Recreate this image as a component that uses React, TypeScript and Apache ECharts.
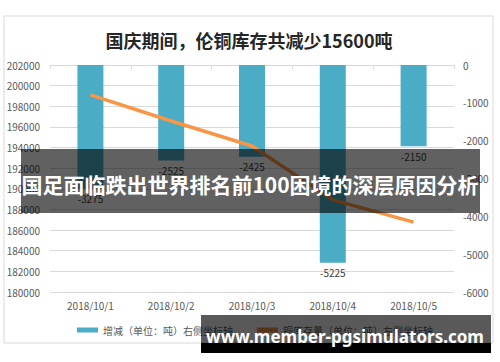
import React, { useEffect, useRef } from "react";
import * as echarts from "echarts";

const categories = ["2018/10/1", "2018/10/2", "2018/10/3", "2018/10/4", "2018/10/5"];
const changeValues = [-3275, -2525, -2425, -5225, -2150];
const stockValues = [199100, 196575, 194150, 188925, 186775];
const titleText = "国庆期间，伦铜库存共减少15600吨";
const bannerText = "国足面临跌出世界排名前100困境的深层原因分析";
const watermarkText = "www.member-pgsimulators.com";
const legendNames = ["增减（单位：吨）右侧坐标轴", "铜库存量（单位：吨）左侧坐标轴"];

export default function App() {
  const ref = useRef<HTMLDivElement>(null);
  useEffect(() => {
    if (!ref.current) return;
    const chart = echarts.init(ref.current, null, { renderer: "svg" });
    const font = "'Noto Sans CJK SC', 'Noto Sans', sans-serif";
    const plain = (v: number) => String(v);
    chart.setOption({
      animation: false,
      backgroundColor: "#ffffff",
      textStyle: { fontFamily: font },
      grid: { left: 50, right: 46, top: 65, bottom: 70, containLabel: false },
      legend: {
        left: 72,
        top: 320,
        itemWidth: 21,
        itemHeight: 5,
        itemGap: 24,
        textStyle: { fontSize: 10, color: "#595959", fontFamily: font },
        data: [
          { name: legendNames[0], icon: "rect" },
          { name: legendNames[1], icon: "rect" },
        ],
      },
      xAxis: {
        type: "category",
        data: categories,
        boundaryGap: true,
        axisLine: { lineStyle: { color: "#D9D9D9" } },
        axisTick: { show: true, length: 4, lineStyle: { color: "#D9D9D9" } },
        axisLabel: { color: "#595959", fontSize: 10, margin: 8 },
      },
      yAxis: [
        {
          type: "value",
          min: 180000,
          max: 202000,
          interval: 2000,
          axisLine: { show: false },
          axisTick: { show: false },
          splitLine: { lineStyle: { color: "#D9D9D9" } },
          axisLabel: { color: "#595959", fontSize: 10, margin: 10, formatter: plain },
        },
        {
          type: "value",
          min: -6000,
          max: 0,
          interval: 1000,
          position: "right",
          axisLine: { show: false },
          axisTick: { show: false },
          splitLine: { show: false },
          axisLabel: { color: "#595959", fontSize: 10, margin: 9, formatter: plain },
        },
      ],
      series: [
        {
          name: legendNames[0],
          type: "bar",
          yAxisIndex: 1,
          data: changeValues,
          barWidth: 26,
          itemStyle: { color: "#4BACC6" },
          label: {
            show: true,
            position: "bottom",
            distance: 5,
            color: "#404040",
            fontSize: 10,
          },
        },
        {
          name: legendNames[1],
          type: "line",
          yAxisIndex: 0,
          data: stockValues,
          symbol: "none",
          lineStyle: { color: "#F79646", width: 3.5 },
          itemStyle: { color: "#F79646" },
          z: 5,
        },
      ],
      graphic: [
        {
          type: "rect",
          z: -1,
          silent: true,
          shape: { x: 4, y: 16, width: 489, height: 327 },
          style: { fill: "none", stroke: "#D9D9D9", lineWidth: 1 },
        },
        {
          type: "text",
          z: 10,
          x: 249,
          y: 40,
          style: {
            text: titleText,
            fontSize: 18,
            fontWeight: "bold",
            fill: "#262626",
            fontFamily: font,
            align: "center",
            verticalAlign: "middle",
          },
        },
        {
          type: "rect",
          z: 100,
          silent: true,
          shape: { x: 21, y: 149, width: 459, height: 64 },
          style: { fill: "rgba(0,0,0,0.62)" },
        },
        {
          type: "text",
          z: 101,
          x: 250,
          y: 184,
          style: {
            text: bannerText,
            fontSize: 21,
            fontWeight: "bold",
            fill: "#ffffff",
            fontFamily: font,
            align: "center",
            verticalAlign: "middle",
          },
        },
        {
          type: "rect",
          z: 100,
          silent: true,
          shape: { x: 201, y: 315, width: 290, height: 28 },
          style: { fill: "rgba(0,0,0,0.65)" },
        },
        {
          type: "rect",
          z: 100,
          silent: true,
          shape: { x: 201, y: 343, width: 290, height: 10 },
          style: { fill: "#000000" },
        },
        {
          type: "text",
          z: 101,
          x: 345,
          y: 336,
          style: {
            text: watermarkText,
            fontSize: 17,
            fontWeight: "bold",
            fill: "#ffffff",
            fontFamily: "'Noto Sans', sans-serif",
            align: "center",
            verticalAlign: "middle",
          },
        },
      ],
    });
    return () => chart.dispose();
  }, []);
  return (
    <div
      ref={ref}
      style={{ position: "fixed", left: 0, top: 0, width: 500, height: 362 }}
    />
  );
}
